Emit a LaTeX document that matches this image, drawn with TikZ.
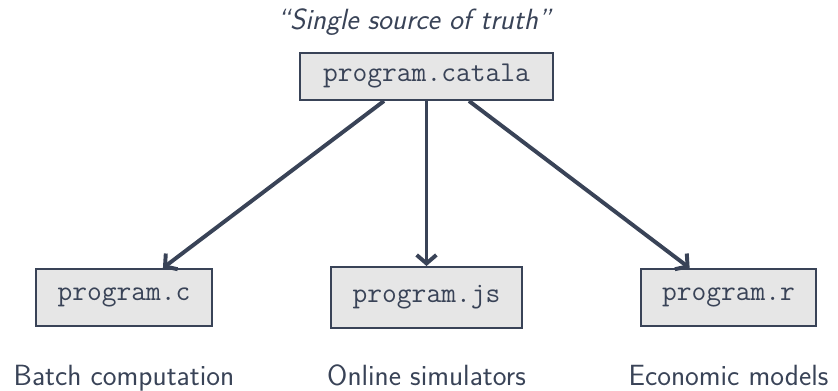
\documentclass[tikz,border=0pt]{standalone}
\usepackage{tikz}
\usetikzlibrary{calc}
\usetikzlibrary{arrows.meta}
\definecolor{slate}{HTML}{394357}
\definecolor{boxgray}{HTML}{E6E6E6}

\begin{document}
\begin{tikzpicture}[x=0.025cm, y=-0.025cm]
				\tikzstyle{filenode}=[draw=slate, line width=1.4pt, fill=boxgray, text=slate, font=\ttfamily\fontsize{20.4}{24}\selectfont, minimum height=1.425cm]
				\tikzstyle{usenode}=[text=slate, anchor=base, font=\sffamily\fontsize{20.8}{24}\selectfont]
				\tikzstyle{flow}=[-{Straight Barb[length=6pt, width=14pt]}, line width=2.8pt, slate]
				
				\useasboundingbox (0,0) rectangle (838,390);
				
				\node (src) at (426.5,76.5) [filenode, minimum width=6.325cm, minimum height=1.175cm] {program.catala};
				\node (srclab) at (414,29) [usenode] {\itshape “Single source of truth”};
				
				\node (out1) at (124,297.5) [filenode, minimum width=4.4cm] {program.c};
				\node (out2) at (426.5,297.5) [filenode, minimum width=4.775cm, minimum height=1.525cm] {program.js};
				\node (out3) at (728.5,297.5) [filenode, minimum width=4.375cm] {program.r};
				
				\node (lab1) at (124,385) [usenode] {Batch computation};
				\node (lab2) at (426.5,385) [usenode] {Online simulators};
				\node (lab3) at (728.5,385) [usenode] {Economic models};
				
				\draw [flow] ($(src.south west)!1/3!(src.south east)$) -- (out1);
				\draw [flow] (src.south) -- (out2);
				\draw [flow] ($(src.south west)!2/3!(src.south east)$) -- (out3);
				\end{tikzpicture}
\end{document}
